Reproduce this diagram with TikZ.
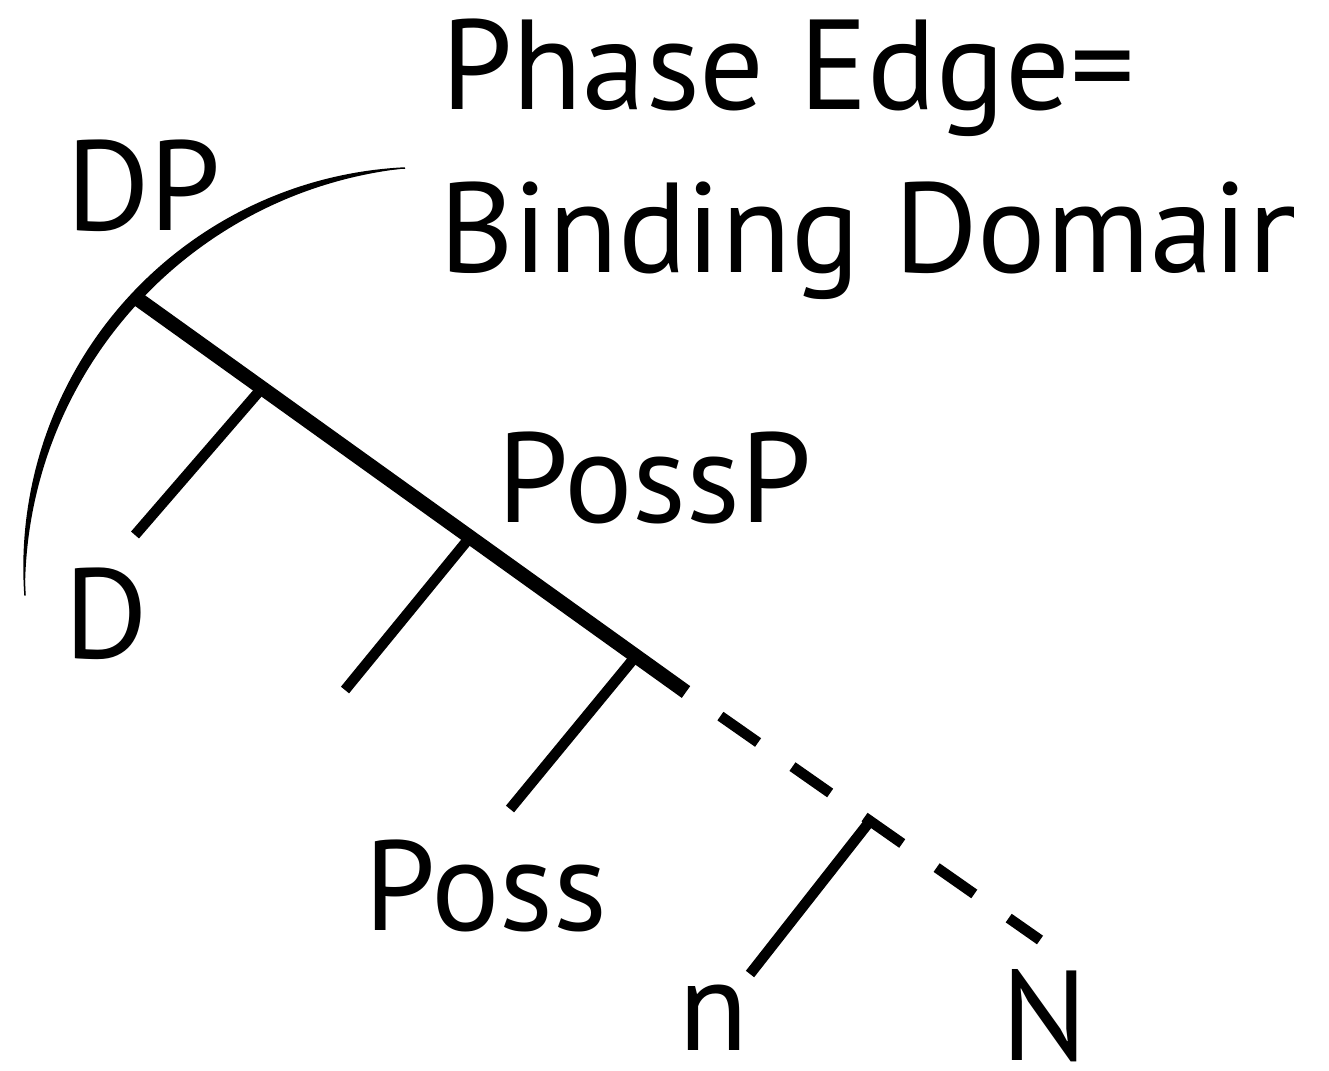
\documentclass[tikz,border=0pt]{standalone}
\usepackage{fontspec}
\setmainfont{PT Sans}
\usetikzlibrary{calc}

\tikzset{
  label/.style={anchor=base west, inner sep=0pt, outer sep=0pt,
    font=\fontsize{128}{150}\selectfont},
  spine/.style={line width=14.5pt},
  branch/.style={line width=10.5pt},
  projection/.style={line width=10.5pt, dash pattern=on 46pt off 42pt, dash phase=46pt},
}

\begin{document}
\begin{tikzpicture}[x=1pt, y=-1pt]
  \useasboundingbox (0,0) rectangle (1329,1070);

  % heading, cut at the right margin
  \begin{scope}
    \clip (0,0) rectangle (1293,1070);
    \node[label] (phase) at (441,110) {Phase Edge=};
    \node[label] (binding) at (439,272) {Binding Domain};
  \end{scope}

  % tree labels
  \node[label] (dpl)    at (66,230)   {DP};
  \node[label] (dl)     at (64,658)   {D};
  \node[label] (posspl) at (497,522)  {PossP};
  \node[label] (possl)  at (364,930)  {Poss};
  \node[label] (nl)     at (678,1050) {n};
  \node[label] (Nl)     at (1001,1060) {N};

  % spine of the tree
  \coordinate (dp)   at (135,297);
  \coordinate (pend) at (686,692);
  \coordinate (nend) at (1040,940);
  \draw[spine] (dp) -- (pend);
  \draw[projection] (pend) -- (nend);

  % attachment points on the spine
  \coordinate (dj)  at ($(dp)!0.2305!(pend)$);
  \coordinate (ppj) at ($(dp)!0.608!(pend)$);
  \coordinate (pj)  at ($(dp)!0.909!(pend)$);
  \coordinate (nj)  at ($(pend)!0.52!(nend)$);

  % lower ends of the branches
  \coordinate (db)  at (135,535);
  \coordinate (ppb) at (345,690);
  \coordinate (pb)  at (510,809);
  \coordinate (nb)  at (750,974);

  \draw[branch] (dj) -- (db);
  \draw[branch] (ppj) -- (ppb);
  \draw[branch] (pj) -- (pb);
  \draw[branch] (nj) -- (nb);

  % tapered arc marking the phase edge
  \coordinate (arcA) at (405,168);
  \coordinate (arcC) at (25,595);
  \fill (arcA) arc[start angle=267.27, end angle=175.99, radius=400]
        arc[start angle=179.53, end angle=263.72, radius=426.2] -- cycle;
  \draw[line width=1.5pt] (arcA) arc[start angle=267.27, end angle=175.99, radius=400];
\end{tikzpicture}
\end{document}
